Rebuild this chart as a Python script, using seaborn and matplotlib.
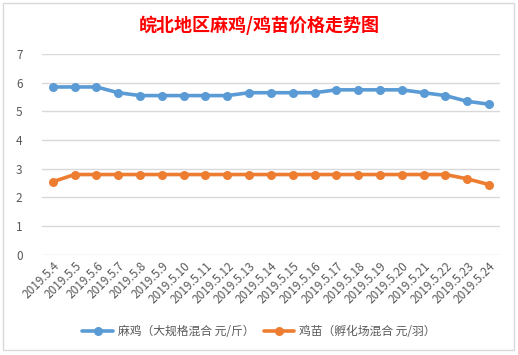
import pandas as pd
import matplotlib
matplotlib.use('Agg')
import matplotlib.pyplot as plt
import seaborn as sns
from matplotlib.patches import Rectangle

dates = ['2019.5.4', '2019.5.5', '2019.5.6', '2019.5.7', '2019.5.8', '2019.5.9', '2019.5.10',
         '2019.5.11', '2019.5.12', '2019.5.13', '2019.5.14', '2019.5.15', '2019.5.16', '2019.5.17',
         '2019.5.18', '2019.5.19', '2019.5.20', '2019.5.21', '2019.5.22', '2019.5.23', '2019.5.24']
maji = [5.85, 5.85, 5.85, 5.65, 5.55, 5.55, 5.55, 5.55, 5.55, 5.65, 5.65,
        5.65, 5.65, 5.75, 5.75, 5.75, 5.75, 5.65, 5.55, 5.35, 5.25]
jimiao = [2.55, 2.8, 2.8, 2.8, 2.8, 2.8, 2.8, 2.8, 2.8, 2.8, 2.8,
          2.8, 2.8, 2.8, 2.8, 2.8, 2.8, 2.8, 2.8, 2.65, 2.45]
series_names = ['麻鸡（大规格混合 元/斤）', '鸡苗（孵化场混合 元/羽）']
colors = ['#5B9BD5', '#ED7D31']

sns.set_style('white')
plt.rcParams['font.family'] = ['Noto Sans CJK SC', 'DejaVu Sans']

df = pd.DataFrame({'date': dates * 2,
                   'price': maji + jimiao,
                   'series': [series_names[0]] * len(dates) + [series_names[1]] * len(dates)})

fig = plt.figure(figsize=(5.18, 3.55), dpi=100)
ax = fig.add_axes([0.081, 0.282, 0.884, 0.566])

sns.lineplot(data=df, x='date', y='price', hue='series', palette=colors, sort=False,
             marker='o', markersize=6.5, markeredgewidth=0, linewidth=2.6, ax=ax)

ax.set_xlim(-0.5, len(dates) - 0.5)
ax.set_ylim(0, 7)
ax.set_yticks(range(0, 8))
ax.grid(axis='y', color='#D9D9D9', linewidth=1)
ax.grid(axis='x', visible=False)
for s in ax.spines.values():
    s.set_visible(False)
ax.set_xlabel('')
ax.set_ylabel('')
ax.tick_params(axis='both', length=0, colors='#595959', labelsize=8.5)
ax.tick_params(axis='y', pad=14)
plt.setp(ax.get_xticklabels(), rotation=45, ha='right', rotation_mode='anchor', fontsize=8.5)

handles, labels = ax.get_legend_handles_labels()
ax.legend(handles, labels, loc='center', bbox_to_anchor=(0.5, 0.067), bbox_transform=fig.transFigure,
          ncol=2, frameon=False, fontsize=8.5, handlelength=2.6, columnspacing=0.8, handletextpad=0.4,
          labelcolor='#595959')

fig.text(0.5, 0.93, '皖北地区麻鸡/鸡苗价格走势图', ha='center', va='center', color='#FF0000',
         fontsize=13, fontweight='bold')

fig.patches.append(Rectangle((3 / 518, 5 / 355), 511 / 518, 347 / 355, transform=fig.transFigure,
                             fill=False, edgecolor='#D9D9D9', linewidth=1))

plt.savefig('out.png', dpi=100)
